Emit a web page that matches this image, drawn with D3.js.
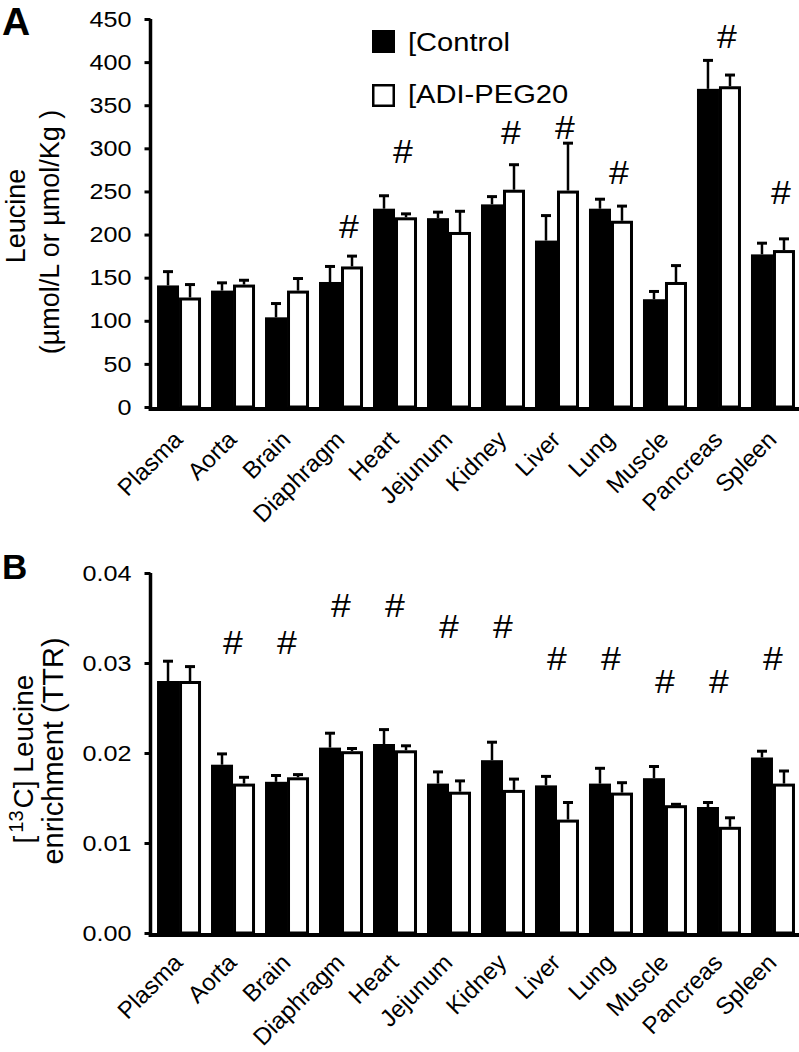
<!DOCTYPE html>
<html>
<head>
<meta charset="utf-8">
<script src="https://cdn.jsdelivr.net/npm/d3@7"></script>
<style>
body { margin: 0; background: #fff; }
svg text { font-family: "Liberation Sans", Arial, sans-serif; fill: #000; }
</style>
</head>
<body>
<div id="chart"></div>
<script>
var organs = ["Plasma", "Aorta", "Brain", "Diaphragm", "Heart", "Jejunum", "Kidney", "Liver", "Lung", "Muscle", "Pancreas", "Spleen"];
var groups = ["[Control", "[ADI-PEG20"];

// panel A : leucine (umol/L or umol/Kg)
var leuControl    = [141, 135, 104, 145, 230, 219, 235, 193, 230, 125, 369, 177];
var leuControlErr = [16, 9, 16, 18, 15, 7, 9, 29, 11, 9, 33, 13];
var leuAdi        = [127, 142, 135, 163, 220, 203, 252, 251, 216, 145, 372, 182];
var leuAdiErr     = [15, 5, 14, 12, 4, 24, 29, 55, 17, 19, 13, 13];
var leuMarks      = [null, null, null, 210, 297, null, 319, 325, 272, null, 430, 249];
var leuTicks      = [0, 50, 100, 150, 200, 250, 300, 350, 400, 450];

// panel B : [13C] leucine enrichment (TTR)
var ttrControl    = [0.0280, 0.0187, 0.0168, 0.0206, 0.0210, 0.0166, 0.0192, 0.0164, 0.0166, 0.0172, 0.0140, 0.0195];
var ttrControlErr = [0.0022, 0.0012, 0.0007, 0.0016, 0.0016, 0.0013, 0.0020, 0.0010, 0.0017, 0.0013, 0.0005, 0.0007];
var ttrAdi        = [0.0280, 0.0166, 0.0173, 0.0202, 0.0203, 0.0157, 0.0159, 0.0126, 0.0156, 0.0142, 0.0118, 0.0166];
var ttrAdiErr     = [0.0016, 0.0007, 0.0003, 0.0003, 0.0005, 0.0012, 0.0012, 0.0019, 0.0011, 0.0001, 0.0010, 0.0014];
var ttrMarks      = [null, 0.0323, 0.0323, 0.0364, 0.0364, 0.0341, 0.0341, 0.0305, 0.0305, 0.0280, 0.0280, 0.0305];
var ttrTicks      = [0, 0.01, 0.02, 0.03, 0.04];

var width = 799,
    height = 1052;

// the original figure is a little wider than tall in its lettering
var stretch = 1.12;

var svg = d3.select("#chart").append("svg")
    .attr("width", width)
    .attr("height", height);

var axisX = 150.5;

var x = d3.scaleBand()
    .domain(organs)
    .range([152, 800])
    .paddingInner(0.185)
    .paddingOuter(0.093);

var xSub = d3.scaleBand()
    .domain(["control", "adi"])
    .range([0, x.bandwidth()]);

drawPanel({
    letter: "A", letterY: 35, letterSize: 39,
    domain: [0, 450], range: [407, 19], lineY: 409, labelDy: 32,
    control: leuControl, controlErr: leuControlErr,
    adi: leuAdi, adiErr: leuAdiErr,
    marks: leuMarks, markDx: 8,
    ticks: leuTicks, format: d3.format("d")
});

drawPanel({
    letter: "B", letterY: 579, letterSize: 35,
    domain: [0, 0.04], range: [933, 573], lineY: 935, labelDy: 29,
    control: ttrControl, controlErr: ttrControlErr,
    adi: ttrAdi, adiErr: ttrAdiErr,
    marks: ttrMarks, markDx: 0,
    ticks: ttrTicks, format: d3.format(".2f")
});

// y labels
svg.append("text")
    .attr("transform", "translate(25,216) rotate(-90)")
    .attr("text-anchor", "middle")
    .style("font-size", "27px")
    .text("Leucine");
svg.append("text")
    .attr("transform", "translate(59,232) rotate(-90)")
    .attr("text-anchor", "middle")
    .style("font-size", "27px")
    .text("(µmol/L or µmol/Kg )");

var lb = svg.append("text")
    .attr("transform", "translate(33,759) rotate(-90)")
    .attr("text-anchor", "middle")
    .style("font-size", "28px");
lb.append("tspan").text("[");
lb.append("tspan").attr("dy", -10).attr("dx", 3).style("font-size", "20px").text("13");
lb.append("tspan").attr("dy", 10).attr("dx", 2).text("C]  Leucine");

svg.append("text")
    .attr("transform", "translate(63,751) rotate(-90)")
    .attr("text-anchor", "middle")
    .style("font-size", "29px")
    .text("enrichment (TTR)");

// legend
var legend = svg.append("g").attr("class", "legend");
legend.selectAll("rect")
    .data(groups)
    .enter()
    .append("rect")
    .attr("x", (d, i) => i == 0 ? 372 : 373.25)
    .attr("y", (d, i) => i == 0 ? 30 : 85.25)
    .attr("width", (d, i) => i == 0 ? 23 : 20.5)
    .attr("height", (d, i) => i == 0 ? 23 : 20.5)
    .style("fill", (d, i) => i == 0 ? "#000" : "#fff")
    .style("stroke", "#000")
    .style("stroke-width", (d, i) => i == 0 ? 0 : 2.5);
legend.selectAll("text")
    .data(groups)
    .enter()
    .append("text")
    .attr("transform", (d, i) => "translate(408," + (51 + i * 52) + ") scale(" + stretch + ",1)")
    .style("font-size", "26px")
    .text(d => d);

function drawPanel(p) {
    var g = svg.append("g");
    var y = d3.scaleLinear().domain(p.domain).range(p.range);
    var y0 = p.range[0];
    var bw = xSub.bandwidth();

    var rows = [];
    organs.forEach((o, i) => {
        rows.push({organ: o, key: "control", v: p.control[i], e: p.controlErr[i]});
        rows.push({organ: o, key: "adi", v: p.adi[i], e: p.adiErr[i]});
    });

    // error bars (drawn first so the bar top covers the stem)
    g.selectAll(".stem")
        .data(rows)
        .enter()
        .append("line")
        .attr("x1", d => x(d.organ) + xSub(d.key) + bw / 2)
        .attr("x2", d => x(d.organ) + xSub(d.key) + bw / 2)
        .attr("y1", d => y(d.v))
        .attr("y2", d => y(d.v + d.e))
        .style("stroke", "#000")
        .style("stroke-width", 2.5);
    g.selectAll(".cap")
        .data(rows)
        .enter()
        .append("line")
        .attr("x1", d => x(d.organ) + xSub(d.key) + bw / 2 - 5)
        .attr("x2", d => x(d.organ) + xSub(d.key) + bw / 2 + 5)
        .attr("y1", d => y(d.v + d.e))
        .attr("y2", d => y(d.v + d.e))
        .style("stroke", "#000")
        .style("stroke-width", 3);

    // bars
    g.selectAll(".bar")
        .data(rows)
        .enter()
        .append("rect")
        .attr("x", d => x(d.organ) + xSub(d.key) + (d.key == "adi" ? 1.5 : 0))
        .attr("y", d => y(d.v) + (d.key == "adi" ? 1.5 : 0))
        .attr("width", d => d.key == "adi" ? bw - 3 : bw)
        .attr("height", d => y0 - y(d.v) - (d.key == "adi" ? 1.5 : 0))
        .style("fill", d => d.key == "adi" ? "#fff" : "#000")
        .style("stroke", "#000")
        .style("stroke-width", d => d.key == "adi" ? 3 : 0);

    // y axis
    var ax = g.append("g")
        .attr("transform", "translate(" + axisX + ",0)")
        .call(d3.axisLeft(y)
            .tickValues(p.ticks)
            .tickFormat(p.format)
            .tickSizeInner(6)
            .tickSizeOuter(0)
            .tickPadding(11));
    ax.select(".domain").attr("d", "M0," + (p.lineY + 2) + "V" + p.range[1])
        .style("stroke-width", 3.5);
    ax.selectAll(".tick line").style("stroke-width", 3);
    ax.selectAll(".tick text")
        .attr("transform", "scale(" + stretch + ",1)")
        .style("font-size", "22.5px")
        .style("font-family", "'Liberation Sans', Arial, sans-serif");

    // x axis line
    g.append("line")
        .attr("x1", axisX - 1.75)
        .attr("x2", 800)
        .attr("y1", p.lineY)
        .attr("y2", p.lineY)
        .style("stroke", "#000")
        .style("stroke-width", 4);

    // category labels
    g.selectAll(".xlab")
        .data(organs)
        .enter()
        .append("text")
        .attr("text-anchor", "end")
        .attr("transform", d => "translate(" + (x(d) + x.bandwidth() / 2 + 5) + "," + (p.lineY + p.labelDy) + ") rotate(-45)")
        .style("font-size", "24px")
        .text(d => d);

    // significance marks
    g.selectAll(".mark")
        .data(organs.filter((o, i) => p.marks[i] != null))
        .enter()
        .append("text")
        .attr("text-anchor", "middle")
        .attr("transform", d => "translate(" + (x(d) + x.bandwidth() / 2 + p.markDx) + "," + y(p.marks[organs.indexOf(d)]) + ") scale(1.08,1)")
        .attr("dy", "0.36em")
        .style("font-size", "33px")
        .text("#");

    // panel letter
    svg.append("text")
        .attr("x", 2)
        .attr("y", p.letterY)
        .style("font-size", p.letterSize + "px")
        .style("font-weight", "bold")
        .text(p.letter);
}
</script>
</body>
</html>
